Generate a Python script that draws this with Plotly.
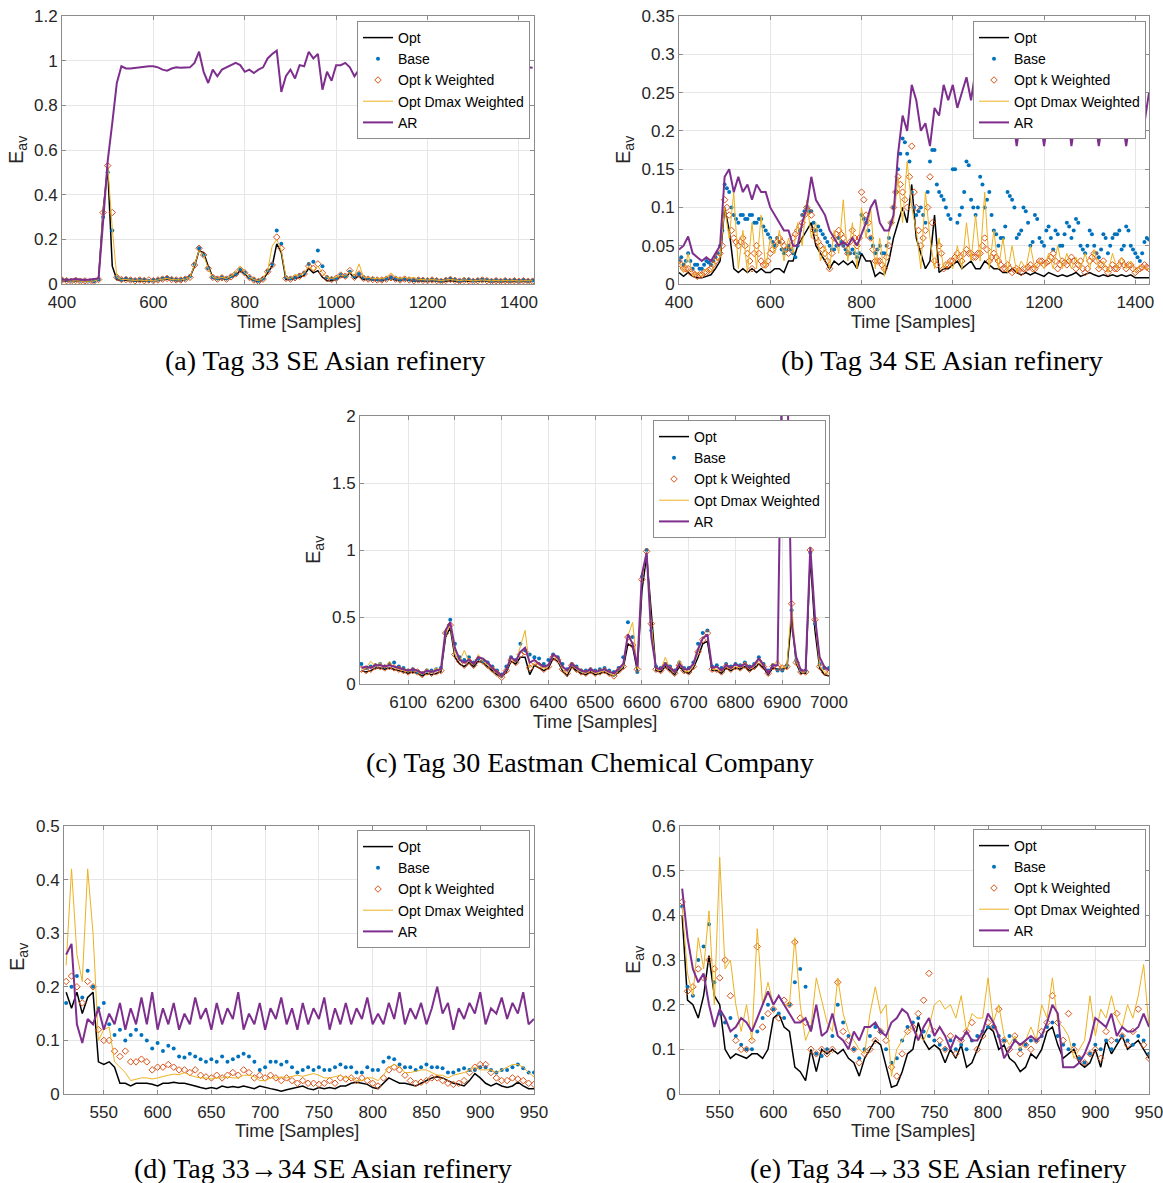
import plotly.graph_objects as go

W, H = 1163, 1183

# ---------------- data ----------------
LABELS = ["Opt", "Base", "Opt k Weighted", "Opt Dmax Weighted", "AR"]

# (a) Tag 33 SE Asian refinery
x_a = list(range(400, 1431, 10))
a_opt = [0.015,0.012,0.015,0.013,0.012,0.014,0.012,0.013,0.02,0.33,
         0.52,0.08,0.02,0.015,0.018,0.015,0.012,0.015,0.013,0.015,
         0.014,0.016,0.02,0.022,0.02,0.015,0.015,0.02,0.03,0.08,
         0.15,0.14,0.08,0.03,0.02,0.025,0.02,0.03,0.04,0.06,
         0.045,0.025,0.015,0.01,0.02,0.05,0.08,0.18,0.14,0.02,
         0.02,0.025,0.03,0.04,0.07,0.05,0.06,0.03,0.015,0.015,
         0.02,0.035,0.03,0.05,0.025,0.035,0.02,0.02,0.018,0.015,
         0.015,0.02,0.025,0.018,0.015,0.02,0.015,0.012,0.015,0.013,
         0.012,0.015,0.012,0.01,0.012,0.015,0.012,0.01,0.013,0.012,
         0.01,0.012,0.015,0.012,0.01,0.012,0.01,0.012,0.01,0.012,
         0.01,0.012,0.01,0.012]
a_base = [0.02,0.018,0.015,0.02,0.015,0.016,0.015,0.012,0.02,0.3,
          0.5,0.24,0.03,0.02,0.025,0.02,0.018,0.02,0.02,0.015,
          0.018,0.02,0.025,0.028,0.022,0.02,0.02,0.025,0.035,0.09,
          0.16,0.13,0.07,0.03,0.025,0.03,0.025,0.035,0.045,0.065,
          0.05,0.03,0.02,0.015,0.025,0.06,0.09,0.24,0.18,0.03,
          0.025,0.03,0.04,0.05,0.09,0.1,0.15,0.08,0.03,0.025,
          0.025,0.04,0.035,0.055,0.035,0.045,0.03,0.025,0.022,0.02,
          0.02,0.025,0.03,0.025,0.02,0.025,0.02,0.018,0.02,0.02,
          0.018,0.02,0.018,0.015,0.02,0.025,0.02,0.015,0.018,0.02,
          0.015,0.018,0.02,0.018,0.015,0.018,0.015,0.018,0.015,0.018,
          0.015,0.018,0.015,0.016]
a_optk = [0.018,0.015,0.012,0.016,0.012,0.014,0.01,0.012,0.02,0.32,
          0.53,0.32,0.03,0.02,0.02,0.018,0.015,0.018,0.015,0.018,
          0.015,0.018,0.022,0.025,0.02,0.018,0.018,0.022,0.03,0.085,
          0.16,0.13,0.07,0.03,0.022,0.028,0.022,0.032,0.045,0.065,
          0.05,0.03,0.018,0.012,0.022,0.055,0.085,0.21,0.16,0.025,
          0.022,0.028,0.035,0.045,0.08,0.07,0.09,0.05,0.025,0.02,
          0.025,0.04,0.035,0.06,0.03,0.045,0.025,0.022,0.02,0.018,
          0.018,0.022,0.028,0.022,0.018,0.022,0.018,0.015,0.018,0.016,
          0.015,0.018,0.015,0.012,0.016,0.02,0.016,0.013,0.016,0.015,
          0.012,0.015,0.018,0.015,0.012,0.015,0.012,0.015,0.012,0.015,
          0.012,0.015,0.012,0.013]
a_dmax = [0.018,0.015,0.013,0.015,0.012,0.013,0.012,0.013,0.02,0.32,
          0.53,0.25,0.03,0.02,0.02,0.018,0.016,0.018,0.015,0.017,
          0.015,0.018,0.022,0.025,0.02,0.018,0.018,0.022,0.03,0.085,
          0.15,0.13,0.07,0.03,0.025,0.03,0.025,0.035,0.05,0.08,
          0.05,0.03,0.02,0.015,0.025,0.06,0.17,0.2,0.15,0.03,
          0.025,0.04,0.04,0.05,0.08,0.06,0.08,0.05,0.03,0.025,
          0.03,0.04,0.035,0.055,0.035,0.09,0.03,0.03,0.025,0.025,
          0.025,0.03,0.05,0.03,0.025,0.03,0.025,0.03,0.02,0.02,
          0.018,0.02,0.018,0.015,0.018,0.02,0.018,0.015,0.018,0.016,
          0.014,0.016,0.018,0.016,0.014,0.016,0.014,0.016,0.014,0.016,
          0.013,0.015,0.013,0.014]
a_ar = [0.02,0.018,0.02,0.022,0.02,0.018,0.02,0.022,0.025,0.28,
        0.55,0.72,0.9,0.975,0.965,0.965,0.968,0.97,0.972,0.975,
        0.975,0.97,0.96,0.955,0.965,0.97,0.968,0.97,0.97,0.99,
        1.04,0.95,0.9,0.96,0.93,0.96,0.97,0.98,0.99,0.98,
        0.95,0.96,0.945,0.96,0.97,1.01,1.03,1.045,0.86,0.93,
        0.96,0.92,0.98,0.975,1.04,1.01,1.03,0.87,0.95,0.91,
        0.98,0.98,0.99,0.97,0.93,0.96,0.95,0.96,0.97,0.965,
        0.97,0.98,0.96,0.97,0.97,0.98,0.965,0.97,0.975,0.97,
        0.96,0.97,0.975,0.97,0.965,0.97,0.98,0.97,0.965,0.97,
        0.97,0.975,0.965,0.97,0.97,0.975,0.96,0.97,0.97,0.975,
        0.97,0.965,0.97,0.968]

# (b) Tag 34 SE Asian refinery
x_b = list(range(400, 1431, 10))     # line series
x_b5 = list(range(400, 1431, 5))     # scatter series (denser)
b_opt = [0.015,0.01,0.015,0.01,0.008,0.008,0.01,0.012,0.02,0.03,
         0.1,0.07,0.02,0.015,0.02,0.015,0.02,0.015,0.02,0.015,
         0.015,0.02,0.02,0.015,0.03,0.03,0.05,0.06,0.07,0.08,
         0.05,0.04,0.03,0.02,0.03,0.025,0.03,0.025,0.03,0.02,
         0.04,0.03,0.03,0.01,0.015,0.012,0.03,0.06,0.08,0.1,
         0.08,0.13,0.06,0.04,0.02,0.03,0.09,0.015,0.02,0.02,
         0.025,0.03,0.02,0.025,0.03,0.02,0.02,0.03,0.025,0.02,
         0.02,0.015,0.015,0.02,0.015,0.012,0.015,0.012,0.015,0.012,
         0.01,0.015,0.012,0.01,0.012,0.01,0.012,0.015,0.01,0.012,
         0.015,0.012,0.01,0.012,0.01,0.012,0.01,0.012,0.01,0.012,
         0.008,0.008,0.008,0.008]
b_base = [0.03,0.035,0.025,0.03,0.04,0.03,0.02,0.025,0.025,0.02,0.02,0.025,0.03,0.028,0.025,0.03,0.035,0.04,0.05,0.07,
          0.13,0.125,0.12,0.1,0.09,0.085,0.08,0.09,0.09,0.085,0.085,0.09,0.09,0.08,0.08,0.085,0.085,0.075,0.07,0.065,
          0.06,0.055,0.05,0.06,0.055,0.045,0.04,0.045,0.05,0.045,0.04,0.035,0.05,0.07,0.09,0.095,0.1,0.095,0.095,0.08,
          0.07,0.075,0.07,0.065,0.06,0.055,0.05,0.045,0.045,0.05,0.06,0.055,0.05,0.045,0.04,0.04,0.045,0.04,0.035,0.04,
          0.09,0.085,0.08,0.07,0.06,0.05,0.04,0.045,0.05,0.04,0.04,0.05,0.06,0.08,0.1,0.12,0.15,0.17,0.19,0.185,
          0.17,0.16,0.12,0.1,0.09,0.095,0.1,0.09,0.08,0.12,0.16,0.175,0.175,0.13,0.12,0.115,0.11,0.1,0.09,0.085,
          0.15,0.15,0.08,0.09,0.1,0.12,0.16,0.155,0.11,0.1,0.09,0.1,0.14,0.13,0.1,0.11,0.12,0.09,0.07,0.065,
          0.05,0.06,0.06,0.075,0.12,0.115,0.11,0.1,0.06,0.065,0.07,0.1,0.095,0.08,0.05,0.055,0.09,0.085,0.06,0.055,
          0.05,0.07,0.075,0.06,0.045,0.07,0.065,0.05,0.05,0.065,0.08,0.075,0.06,0.07,0.085,0.08,0.05,0.045,0.04,0.05,
          0.07,0.065,0.05,0.04,0.035,0.045,0.065,0.06,0.04,0.05,0.06,0.065,0.065,0.07,0.045,0.05,0.075,0.07,0.05,0.045,
          0.04,0.035,0.03,0.04,0.055,0.06,0.058]
b_optk = [0.03,0.025,0.02,0.02,0.02,0.015,0.015,0.012,0.01,0.012,0.012,0.015,0.015,0.018,0.02,0.025,0.03,0.035,0.04,0.05,
          0.11,0.1,0.09,0.07,0.06,0.055,0.05,0.055,0.06,0.05,0.04,0.03,0.02,0.04,0.05,0.04,0.03,0.025,0.025,0.03,
          0.04,0.045,0.05,0.055,0.06,0.055,0.05,0.045,0.04,0.05,0.06,0.065,0.07,0.075,0.08,0.09,0.1,0.095,0.09,0.07,
          0.06,0.055,0.05,0.045,0.04,0.03,0.02,0.04,0.06,0.065,0.07,0.065,0.06,0.05,0.04,0.055,0.07,0.06,0.05,0.06,
          0.12,0.11,0.09,0.08,0.06,0.045,0.03,0.03,0.03,0.025,0.02,0.035,0.05,0.08,0.1,0.12,0.14,0.13,0.12,0.11,
          0.1,0.14,0.18,0.12,0.1,0.07,0.05,0.06,0.07,0.1,0.14,0.08,0.03,0.025,0.05,0.04,0.02,0.025,0.025,0.03,
          0.03,0.035,0.04,0.035,0.03,0.04,0.045,0.04,0.04,0.035,0.035,0.04,0.04,0.05,0.06,0.045,0.03,0.035,0.04,0.035,
          0.03,0.025,0.02,0.02,0.025,0.02,0.015,0.018,0.02,0.018,0.015,0.02,0.02,0.022,0.025,0.02,0.02,0.025,0.03,0.03,
          0.025,0.028,0.03,0.035,0.04,0.03,0.02,0.025,0.03,0.028,0.025,0.03,0.035,0.03,0.02,0.025,0.03,0.02,0.015,0.02,
          0.03,0.035,0.04,0.03,0.02,0.025,0.03,0.02,0.015,0.02,0.025,0.02,0.02,0.025,0.03,0.025,0.02,0.025,0.025,0.02,
          0.015,0.018,0.02,0.022,0.025,0.022,0.02]
b_dmax = [0.03,0.015,0.04,0.01,0.015,0.01,0.02,0.015,0.03,0.035,
          0.1,0.06,0.12,0.02,0.07,0.015,0.08,0.02,0.09,0.02,
          0.06,0.04,0.07,0.03,0.06,0.04,0.08,0.05,0.11,0.06,
          0.08,0.03,0.05,0.02,0.07,0.04,0.11,0.03,0.08,0.02,
          0.1,0.06,0.1,0.02,0.06,0.01,0.07,0.08,0.14,0.08,
          0.16,0.1,0.07,0.02,0.12,0.06,0.02,0.06,0.02,0.03,
          0.02,0.05,0.02,0.08,0.03,0.09,0.03,0.12,0.02,0.07,
          0.02,0.06,0.015,0.05,0.015,0.03,0.02,0.05,0.02,0.03,
          0.02,0.04,0.02,0.05,0.02,0.04,0.02,0.035,0.02,0.04,
          0.02,0.045,0.02,0.03,0.015,0.04,0.02,0.035,0.02,0.03,
          0.015,0.025,0.02,0.02]
b_ar = [0.045,0.05,0.062,0.04,0.035,0.03,0.035,0.03,0.04,0.05,
        0.14,0.15,0.12,0.14,0.12,0.13,0.11,0.13,0.12,0.12,
        0.1,0.09,0.08,0.07,0.07,0.05,0.05,0.08,0.1,0.14,
        0.11,0.1,0.09,0.07,0.06,0.05,0.055,0.05,0.06,0.05,
        0.065,0.08,0.1,0.11,0.08,0.07,0.07,0.09,0.17,0.22,
        0.2,0.26,0.24,0.2,0.21,0.18,0.23,0.22,0.26,0.24,
        0.26,0.23,0.25,0.27,0.24,0.28,0.3,0.26,0.28,0.22,
        0.25,0.19,0.22,0.225,0.18,0.22,0.23,0.19,0.22,0.225,
        0.18,0.22,0.225,0.19,0.22,0.23,0.18,0.22,0.22,0.19,
        0.225,0.22,0.18,0.22,0.225,0.19,0.22,0.22,0.18,0.22,
        0.22,0.19,0.21,0.25]

# (c) Tag 30 Eastman Chemical Company
x_c = list(range(6000, 7001, 10))
c_opt = [0.1,0.09,0.1,0.12,0.12,0.11,0.12,0.11,0.1,0.09,
         0.08,0.09,0.08,0.06,0.08,0.07,0.08,0.09,0.35,0.42,
         0.2,0.15,0.13,0.16,0.13,0.17,0.16,0.13,0.1,0.07,
         0.05,0.09,0.17,0.15,0.2,0.2,0.07,0.14,0.12,0.1,
         0.12,0.19,0.17,0.1,0.06,0.13,0.1,0.08,0.07,0.09,
         0.07,0.08,0.09,0.07,0.06,0.09,0.12,0.3,0.28,0.1,
         0.7,0.96,0.55,0.1,0.09,0.13,0.1,0.07,0.13,0.09,
         0.08,0.12,0.2,0.3,0.32,0.1,0.1,0.08,0.12,0.1,
         0.12,0.11,0.13,0.1,0.12,0.15,0.12,0.07,0.12,0.11,
         0.11,0.12,0.5,0.15,0.08,0.08,0.95,0.4,0.12,0.07,
         0.06]
c_base = [0.15,0.12,0.13,0.14,0.15,0.13,0.15,0.16,0.13,0.12,
          0.1,0.11,0.09,0.08,0.1,0.1,0.11,0.12,0.38,0.48,
          0.3,0.2,0.18,0.2,0.16,0.19,0.17,0.16,0.13,0.1,
          0.07,0.13,0.2,0.18,0.3,0.25,0.22,0.2,0.19,0.15,
          0.18,0.22,0.2,0.15,0.11,0.15,0.13,0.1,0.1,0.11,
          0.1,0.11,0.12,0.1,0.09,0.12,0.2,0.46,0.35,0.09,
          0.8,1.0,0.4,0.13,0.12,0.15,0.13,0.1,0.16,0.12,
          0.12,0.16,0.3,0.38,0.4,0.13,0.14,0.12,0.15,0.13,
          0.15,0.14,0.16,0.13,0.15,0.2,0.15,0.1,0.14,0.1,
          0.1,0.14,0.55,0.18,0.1,0.1,0.98,0.45,0.15,0.12,
          0.12]
c_optk = [0.11,0.1,0.11,0.13,0.13,0.12,0.13,0.12,0.11,0.1,
          0.09,0.1,0.09,0.07,0.09,0.08,0.09,0.1,0.38,0.44,
          0.22,0.17,0.14,0.17,0.14,0.18,0.17,0.14,0.11,0.08,
          0.05,0.1,0.18,0.16,0.22,0.24,0.12,0.16,0.14,0.11,
          0.13,0.2,0.18,0.11,0.08,0.14,0.11,0.09,0.08,0.1,
          0.08,0.09,0.1,0.08,0.06,0.1,0.13,0.35,0.29,0.11,
          0.78,0.99,0.45,0.11,0.1,0.14,0.11,0.08,0.14,0.1,
          0.09,0.13,0.24,0.33,0.38,0.11,0.11,0.09,0.13,0.11,
          0.13,0.12,0.14,0.11,0.13,0.17,0.13,0.08,0.13,0.12,
          0.12,0.13,0.6,0.16,0.09,0.09,1.0,0.48,0.13,0.09,
          0.08]
c_dmax = [0.11,0.12,0.17,0.13,0.16,0.12,0.17,0.12,0.11,0.1,
          0.09,0.11,0.09,0.07,0.11,0.08,0.12,0.1,0.37,0.44,
          0.22,0.17,0.25,0.17,0.14,0.22,0.17,0.14,0.11,0.08,
          0.05,0.1,0.18,0.16,0.28,0.4,0.12,0.16,0.14,0.11,
          0.13,0.21,0.18,0.11,0.08,0.14,0.11,0.09,0.08,0.1,
          0.08,0.09,0.1,0.08,0.06,0.1,0.13,0.36,0.46,0.11,
          0.78,0.99,0.45,0.11,0.1,0.2,0.11,0.08,0.18,0.1,
          0.09,0.13,0.24,0.35,0.37,0.11,0.11,0.09,0.13,0.11,
          0.13,0.12,0.16,0.11,0.13,0.17,0.13,0.08,0.13,0.18,
          0.12,0.13,0.6,0.16,0.09,0.09,1.0,0.48,0.13,0.09,
          0.08]
c_ar = [0.12,0.13,0.12,0.14,0.14,0.13,0.14,0.13,0.12,0.11,
        0.1,0.11,0.1,0.08,0.1,0.09,0.1,0.11,0.4,0.46,
        0.27,0.18,0.16,0.18,0.15,0.2,0.19,0.16,0.12,0.09,
        0.06,0.11,0.2,0.17,0.24,0.27,0.16,0.18,0.15,0.13,
        0.14,0.22,0.2,0.13,0.1,0.15,0.12,0.1,0.09,0.11,
        0.09,0.1,0.11,0.09,0.08,0.11,0.15,0.37,0.3,0.13,
        0.82,0.98,0.35,0.12,0.11,0.15,0.12,0.09,0.15,0.11,
        0.11,0.15,0.26,0.34,0.37,0.12,0.13,0.1,0.14,0.12,
        0.15,0.13,0.15,0.12,0.14,0.19,0.14,0.08,0.14,0.14,
        2.5,2.5,0.45,0.2,0.1,0.1,1.02,0.5,0.2,0.13,
        0.1]

# (d) Tag 33->34 SE Asian refinery
x_d = list(range(515, 951, 5))
d_opt = [0.19,0.16,0.19,0.15,0.18,0.19,0.06,0.055,0.06,0.05,
         0.02,0.02,0.015,0.02,0.02,0.02,0.018,0.015,0.02,0.02,
         0.022,0.02,0.02,0.018,0.015,0.012,0.01,0.012,0.01,0.015,
         0.012,0.014,0.012,0.015,0.012,0.01,0.015,0.012,0.01,0.008,
         0.005,0.008,0.01,0.012,0.015,0.01,0.008,0.012,0.01,0.012,
         0.01,0.015,0.015,0.02,0.022,0.02,0.018,0.012,0.01,0.02,
         0.03,0.025,0.02,0.02,0.018,0.015,0.02,0.025,0.03,0.032,
         0.03,0.025,0.02,0.018,0.015,0.025,0.038,0.03,0.02,0.015,
         0.02,0.015,0.012,0.015,0.022,0.015,0.01,0.01]
d_base = [0.17,0.2,0.22,0.18,0.23,0.2,0.16,0.17,0.13,0.11,
          0.12,0.1,0.11,0.12,0.11,0.1,0.085,0.095,0.08,0.09,
          0.085,0.07,0.068,0.075,0.07,0.065,0.06,0.065,0.06,0.07,
          0.06,0.065,0.07,0.075,0.07,0.06,0.045,0.05,0.06,0.06,
          0.055,0.06,0.05,0.04,0.045,0.05,0.045,0.05,0.045,0.045,
          0.05,0.055,0.05,0.05,0.04,0.04,0.05,0.045,0.045,0.06,
          0.068,0.065,0.055,0.05,0.05,0.045,0.05,0.055,0.05,0.05,
          0.048,0.04,0.04,0.045,0.048,0.045,0.045,0.05,0.05,0.045,
          0.04,0.045,0.045,0.05,0.055,0.048,0.04,0.04]
d_optk = [0.21,0.22,0.2,0.17,0.21,0.2,0.12,0.1,0.1,0.08,
          0.07,0.08,0.06,0.06,0.065,0.06,0.045,0.05,0.05,0.055,
          0.05,0.045,0.045,0.04,0.045,0.035,0.032,0.03,0.035,0.03,
          0.035,0.04,0.035,0.045,0.04,0.03,0.035,0.03,0.035,0.03,
          0.025,0.03,0.025,0.02,0.025,0.02,0.02,0.018,0.02,0.025,
          0.02,0.03,0.028,0.03,0.025,0.03,0.025,0.02,0.015,0.03,
          0.045,0.05,0.045,0.035,0.025,0.02,0.022,0.025,0.03,0.03,
          0.025,0.02,0.018,0.02,0.025,0.04,0.05,0.055,0.055,0.04,
          0.03,0.025,0.025,0.03,0.028,0.025,0.02,0.018]
d_dmax = [0.24,0.42,0.26,0.21,0.42,0.3,0.1,0.12,0.125,0.06,
          0.05,0.04,0.025,0.028,0.03,0.03,0.028,0.03,0.033,0.035,
          0.037,0.036,0.04,0.035,0.032,0.03,0.03,0.028,0.03,0.03,
          0.032,0.03,0.03,0.035,0.035,0.032,0.025,0.025,0.03,0.03,
          0.032,0.03,0.033,0.035,0.033,0.035,0.038,0.035,0.03,0.03,
          0.033,0.035,0.03,0.03,0.025,0.025,0.03,0.03,0.025,0.035,
          0.05,0.055,0.05,0.04,0.04,0.042,0.045,0.045,0.04,0.035,
          0.035,0.03,0.035,0.038,0.04,0.045,0.05,0.045,0.045,0.045,
          0.04,0.045,0.05,0.055,0.055,0.05,0.04,0.032]
d_ar = [0.26,0.28,0.13,0.095,0.14,0.13,0.16,0.12,0.15,0.13,
        0.17,0.12,0.16,0.13,0.18,0.13,0.19,0.12,0.16,0.13,
        0.17,0.12,0.15,0.13,0.18,0.14,0.16,0.12,0.17,0.13,
        0.16,0.14,0.19,0.12,0.15,0.13,0.17,0.12,0.16,0.14,
        0.18,0.13,0.16,0.12,0.17,0.13,0.16,0.14,0.18,0.12,
        0.16,0.13,0.17,0.13,0.16,0.14,0.18,0.13,0.15,0.13,
        0.17,0.14,0.19,0.13,0.16,0.14,0.17,0.13,0.16,0.2,
        0.15,0.17,0.12,0.16,0.14,0.17,0.15,0.19,0.13,0.16,
        0.15,0.18,0.14,0.17,0.15,0.19,0.13,0.14]

# (e) Tag 34->33 SE Asian refinery
x_e = list(range(515, 951, 5))
e_opt = [0.4,0.21,0.2,0.17,0.22,0.31,0.22,0.2,0.1,0.08,
         0.09,0.085,0.08,0.09,0.09,0.08,0.1,0.17,0.18,0.15,
         0.14,0.06,0.05,0.03,0.1,0.05,0.1,0.09,0.1,0.09,
         0.1,0.08,0.07,0.04,0.08,0.1,0.12,0.11,0.06,0.015,
         0.02,0.05,0.09,0.1,0.16,0.12,0.1,0.11,0.1,0.07,
         0.1,0.08,0.11,0.06,0.07,0.1,0.13,0.15,0.14,0.1,
         0.11,0.08,0.07,0.05,0.06,0.09,0.08,0.1,0.14,0.15,
         0.11,0.08,0.09,0.1,0.07,0.06,0.07,0.1,0.06,0.12,
         0.09,0.11,0.13,0.1,0.11,0.12,0.1,0.08]
e_base = [0.42,0.24,0.22,0.3,0.33,0.38,0.25,0.18,0.16,0.17,
          0.13,0.11,0.1,0.1,0.14,0.17,0.2,0.19,0.18,0.17,
          0.2,0.25,0.28,0.24,0.15,0.09,0.085,0.1,0.13,0.2,
          0.16,0.13,0.1,0.08,0.1,0.13,0.15,0.14,0.1,0.07,
          0.08,0.12,0.15,0.16,0.17,0.14,0.13,0.12,0.11,0.1,
          0.12,0.1,0.11,0.1,0.12,0.13,0.14,0.15,0.15,0.13,
          0.12,0.13,0.12,0.1,0.11,0.12,0.12,0.13,0.15,0.16,
          0.13,0.11,0.1,0.11,0.08,0.07,0.09,0.11,0.1,0.12,
          0.1,0.12,0.13,0.12,0.11,0.13,0.12,0.09]
e_optk = [0.43,0.23,0.24,0.28,0.26,0.3,0.28,0.26,0.3,0.22,
          0.12,0.1,0.1,0.12,0.33,0.15,0.18,0.19,0.17,0.21,
          0.2,0.34,0.17,0.16,0.1,0.09,0.1,0.09,0.1,0.25,
          0.14,0.12,0.1,0.07,0.09,0.1,0.12,0.14,0.12,0.06,
          0.04,0.09,0.14,0.15,0.18,0.21,0.27,0.14,0.12,0.1,
          0.13,0.09,0.12,0.14,0.16,0.1,0.13,0.16,0.15,0.19,
          0.12,0.1,0.13,0.09,0.11,0.1,0.12,0.14,0.16,0.22,
          0.16,0.12,0.18,0.1,0.08,0.07,0.09,0.1,0.08,0.14,
          0.12,0.18,0.13,0.11,0.14,0.19,0.11,0.08]
e_dmax = [0.42,0.27,0.22,0.35,0.28,0.41,0.2,0.53,0.28,0.3,
          0.2,0.14,0.2,0.12,0.37,0.2,0.25,0.2,0.22,0.2,
          0.2,0.35,0.2,0.12,0.15,0.26,0.21,0.16,0.14,0.26,
          0.18,0.14,0.12,0.1,0.09,0.18,0.24,0.18,0.2,0.04,
          0.1,0.12,0.14,0.15,0.13,0.12,0.15,0.2,0.21,0.19,
          0.2,0.17,0.22,0.14,0.18,0.17,0.17,0.26,0.16,0.2,
          0.13,0.11,0.13,0.1,0.12,0.15,0.12,0.2,0.17,0.26,
          0.16,0.15,0.13,0.08,0.1,0.12,0.22,0.13,0.19,0.17,
          0.22,0.17,0.15,0.2,0.17,0.22,0.29,0.15]
e_ar = [0.46,0.35,0.28,0.25,0.27,0.2,0.15,0.19,0.17,0.14,
        0.15,0.17,0.16,0.14,0.17,0.2,0.23,0.2,0.22,0.2,
        0.18,0.16,0.16,0.17,0.14,0.2,0.13,0.14,0.18,0.13,
        0.12,0.1,0.14,0.12,0.15,0.15,0.16,0.14,0.13,0.16,
        0.17,0.19,0.18,0.15,0.12,0.15,0.17,0.13,0.15,0.13,
        0.1,0.13,0.12,0.14,0.12,0.12,0.14,0.18,0.16,0.13,
        0.08,0.1,0.12,0.11,0.12,0.13,0.12,0.13,0.16,0.2,
        0.18,0.06,0.06,0.06,0.07,0.09,0.12,0.17,0.16,0.15,
        0.18,0.13,0.15,0.14,0.14,0.15,0.18,0.15]

# tick labels
yt_a = [0, 0.2, 0.4, 0.6, 0.8, 1, 1.2]
yt_b = [0, 0.05, 0.1, 0.15, 0.2, 0.25, 0.3, 0.35]
yt_c = [0, 0.5, 1, 1.5, 2]
yt_d = [0, 0.1, 0.2, 0.3, 0.4, 0.5]
yt_e = [0, 0.1, 0.2, 0.3, 0.4, 0.5, 0.6]
xt_ab = [400, 600, 800, 1000, 1200, 1400]
xt_c = [6100, 6200, 6300, 6400, 6500, 6600, 6700, 6800, 6900, 7000]
xt_de = [550, 600, 650, 700, 750, 800, 850, 900, 950]

CAPTIONS = ["(a) Tag 33 SE Asian refinery",
            "(b) Tag 34 SE Asian refinery",
            "(c) Tag 30 Eastman Chemical Company",
            "(d) Tag 33\u219234 SE Asian refinery",
            "(e) Tag 34\u219233 SE Asian refinery"]

# ---------------- styling / layout ----------------
COL = ["#000000", "#0072BD", "#D95319", "#EDB120", "#7E2F8E"]
SANS = "Liberation Sans, Arial, sans-serif"
SERIF = "Liberation Serif, Times New Roman, serif"


def fmt(v):
    return "%g" % v


panels = [
    dict(series=[(x_a, a_opt), (x_a, a_base), (x_a, a_optk), (x_a, a_dmax), (x_a, a_ar)],
         box=(62, 534, 16, 284), xr=[400, 1433], yr=[0, 1.2], xt=xt_ab, yt=yt_a, leg=(530, 21),
         ytitle=(17, 150), xtitle=(299, 322), cap=(325, 360)),
    dict(series=[(x_b, b_opt), (x_b5, b_base), (x_b5, b_optk), (x_b, b_dmax), (x_b, b_ar)],
         box=(679, 1149, 16, 284), xr=[400, 1430], yr=[0, 0.35], xt=xt_ab, yt=yt_b, leg=(1146, 21),
         ytitle=(624, 150), xtitle=(913, 322), cap=(942, 360)),
    dict(series=[(x_c, c_opt), (x_c, c_base), (x_c, c_optk), (x_c, c_dmax), (x_c, c_ar)],
         box=(360, 829, 416, 684), xr=[5997, 7000], yr=[0, 2], xt=xt_c, yt=yt_c, leg=(826, 420),
         ytitle=(314, 550), xtitle=(595, 722), cap=(590, 762)),
    dict(series=[(x_d, d_opt), (x_d, d_base), (x_d, d_optk), (x_d, d_dmax), (x_d, d_ar)],
         box=(64, 534, 826, 1094), xr=[513, 950], yr=[0, 0.5], xt=xt_de, yt=yt_d, leg=(530, 830),
         ytitle=(18, 957), xtitle=(297, 1131), cap=(323, 1168)),
    dict(series=[(x_e, e_opt), (x_e, e_base), (x_e, e_optk), (x_e, e_dmax), (x_e, e_ar)],
         box=(680, 1149, 826, 1094), xr=[513, 950], yr=[0, 0.6], xt=xt_de, yt=yt_e, leg=(1146, 829),
         ytitle=(634, 960), xtitle=(913, 1131), cap=(938, 1168)),
]

fig = go.Figure()
layout = dict(width=W, height=H, autosize=False,
              margin=dict(l=0, r=0, t=0, b=0, pad=0, autoexpand=False),
              paper_bgcolor="white", plot_bgcolor="white", showlegend=True,
              font=dict(family=SANS, color="#262626"))
annotations = []

for i, p in enumerate(panels):
    n = i + 1
    xa = "x" if n == 1 else "x%d" % n
    ya = "y" if n == 1 else "y%d" % n
    lg = "legend" if n == 1 else "legend%d" % n
    for k, (lab, (xs, ys)) in enumerate(zip(LABELS, p["series"])):
        m = min(len(xs), len(ys))
        if k == 0:
            tr = go.Scatter(x=xs[:m], y=ys[:m], mode="lines", line=dict(color=COL[0], width=1.5))
        elif k == 1:
            tr = go.Scatter(x=xs[:m], y=ys[:m], mode="markers",
                            marker=dict(color=COL[1], size=4, symbol="circle", line=dict(width=0)))
        elif k == 2:
            tr = go.Scatter(x=xs[:m], y=ys[:m], mode="markers",
                            marker=dict(color=COL[2], size=5, symbol="diamond-open",
                                        line=dict(width=1, color=COL[2])))
        elif k == 3:
            tr = go.Scatter(x=xs[:m], y=ys[:m], mode="lines", line=dict(color=COL[3], width=1))
        else:
            tr = go.Scatter(x=xs[:m], y=ys[:m], mode="lines", line=dict(color=COL[4], width=2))
        tr.update(name=lab, xaxis=xa, yaxis=ya, legend=lg, showlegend=True)
        fig.add_trace(tr)

    x0, x1, y0, y1 = p["box"]
    axcommon = dict(showline=True, linecolor="#8c8c8c", linewidth=1, mirror="ticks",
                    ticks="inside", ticklen=4, tickcolor="#8c8c8c",
                    showgrid=True, gridcolor="#e6e6e6", gridwidth=1, zeroline=False,
                    automargin=False, ticklabeloverflow="allow",
                    tickfont=dict(family=SANS, size=17, color="#262626"))
    layout["xaxis" if n == 1 else "xaxis%d" % n] = dict(
        domain=[x0 / W, x1 / W], range=p["xr"], anchor=ya, ticklabelstandoff=3,
        tickmode="array", tickvals=p["xt"], ticktext=[fmt(v) for v in p["xt"]], **axcommon)
    layout["yaxis" if n == 1 else "yaxis%d" % n] = dict(
        domain=[1 - y1 / H, 1 - y0 / H], range=p["yr"], anchor=xa,
        tickmode="array", tickvals=p["yt"], ticktext=[fmt(v) for v in p["yt"]], **axcommon)
    lx, ly = p["leg"]
    layout[lg] = dict(x=lx / W, y=1 - ly / H, xanchor="right", yanchor="top",
                      xref="paper", yref="paper",
                      bgcolor="white", bordercolor="#8c8c8c", borderwidth=1,
                      font=dict(family=SANS, size=14, color="#000000"),
                      itemwidth=30, tracegroupgap=0)
    tx, ty = p["ytitle"]
    annotations.append(dict(text="E<sub>av</sub>", x=tx / W, y=1 - ty / H, xref="paper", yref="paper",
                            xanchor="center", yanchor="middle",
                            showarrow=False, textangle=-90, font=dict(family=SANS, size=20, color="#262626")))
    tx, ty = p["xtitle"]
    annotations.append(dict(text="Time [Samples]", x=tx / W, y=1 - ty / H, xref="paper", yref="paper",
                            xanchor="center", yanchor="middle",
                            showarrow=False, font=dict(family=SANS, size=18, color="#262626")))
    tx, ty = p["cap"]
    annotations.append(dict(text=CAPTIONS[i], x=tx / W, y=1 - ty / H, xref="paper", yref="paper",
                            xanchor="center", yanchor="middle",
                            showarrow=False, font=dict(family=SERIF, size=28, color="#000000")))

layout["annotations"] = annotations
fig.update_layout(**layout)
fig.write_html("out.html")
